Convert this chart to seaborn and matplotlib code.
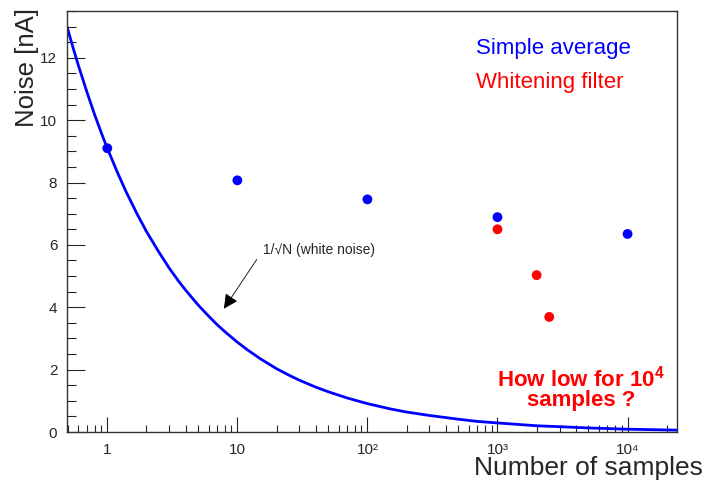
import numpy as np
import pandas as pd
import matplotlib
matplotlib.use("Agg")
import matplotlib.pyplot as plt
import matplotlib.ticker as mticker
import seaborn as sns

avg_n = [1, 10, 100, 1000, 10000]
avg_noise = [9.1, 8.07, 7.46, 6.89, 6.35]
white_n = [1000, 2000, 2500]
white_noise = [6.5, 5.03, 3.69]

# 1/sqrt(N) curve at several N
curve_n = [0.49, 0.55, 0.6, 0.7, 0.8, 0.9, 1, 1.2, 1.4, 1.7, 2, 2.5, 3, 3.5, 4, 5, 6, 7, 8,
           10, 12, 15, 20, 25, 30, 40, 50, 70, 100, 150, 200, 300, 500, 700, 1000,
           2000, 3000, 5000, 10000, 24000]
curve_noise = [13.0, 12.27, 11.75, 10.88, 10.17, 9.59, 9.1, 8.31, 7.69, 6.98, 6.43, 5.76,
               5.25, 4.86, 4.55, 4.07, 3.72, 3.44, 3.22, 2.88, 2.63, 2.35, 2.03, 1.82,
               1.66, 1.44, 1.29, 1.09, 0.91, 0.74, 0.64, 0.53, 0.41, 0.34, 0.29,
               0.20, 0.17, 0.13, 0.09, 0.06]

decade_ticks = [1, 10, 100, 1000, 10000]
decade_labels = ["1", "10", "10\u00b2", "10\u00b3", "10\u2074"]

sns.set_theme(style="ticks")
plt.rcParams["font.family"] = ["Liberation Sans", "DejaVu Sans"]
plt.rcParams["mathtext.fontset"] = "custom"
plt.rcParams["mathtext.rm"] = "Liberation Sans"
plt.rcParams["mathtext.it"] = "Liberation Sans:italic"
plt.rcParams["mathtext.bf"] = "Liberation Sans:bold"

blue = "#0000ff"
red = "#ff0000"

fig = plt.figure(figsize=(7.03, 4.83), dpi=100)
ax = fig.add_axes([67 / 703, 51 / 483, 610 / 703, 421 / 483])

curve = pd.DataFrame({"n": curve_n, "noise": curve_noise})
sns.lineplot(data=curve, x="n", y="noise", ax=ax, color=blue, lw=2, sort=False)
sns.scatterplot(x=avg_n, y=avg_noise, ax=ax, color=blue, s=50, edgecolor="none", zorder=5)
sns.scatterplot(x=white_n, y=white_noise, ax=ax, color=red, s=50, edgecolor="none", zorder=5)

ax.set_xscale("log")
ax.set_xlim(0.49, 24000)
ax.set_ylim(0, 13.5)

ax.xaxis.set_major_locator(mticker.FixedLocator(decade_ticks))
ax.xaxis.set_major_formatter(mticker.FixedFormatter(decade_labels))
ax.xaxis.set_minor_locator(mticker.LogLocator(base=10, subs=np.arange(2, 10), numticks=20))
ax.xaxis.set_minor_formatter(mticker.NullFormatter())
ax.yaxis.set_major_locator(mticker.MultipleLocator(2))
ax.yaxis.set_minor_locator(mticker.MultipleLocator(0.5))

ax.tick_params(axis="x", which="major", direction="in", length=10.5, width=0.8, labelsize=11, pad=8)
ax.tick_params(axis="x", which="minor", direction="in", length=5, width=0.8)
ax.tick_params(axis="y", which="major", direction="in", length=13, width=0.8, labelsize=11, pad=7)
ax.tick_params(axis="y", which="minor", direction="in", length=6.5, width=0.8)
for sp in ax.spines.values():
    sp.set_visible(True)
    sp.set_linewidth(1)
    sp.set_color("#333333")

ax.set_xlabel("")
ax.set_ylabel("")
fig.text(27 / 703, 1 - 8 / 483, "Noise [nA]", rotation=90, ha="center", va="top", fontsize=18.5)
fig.text(1.0, 1 - 468 / 483, "Number of samples", ha="right", va="center", fontsize=19)

# legend-like labels
ax.text(0.670, 0.912, "Simple average", transform=ax.transAxes, color=blue,
        fontsize=16, ha="left", va="center")
ax.text(0.670, 0.829, "Whitening filter", transform=ax.transAxes, color=red,
        fontsize=16, ha="left", va="center")

ax.text(0.843, 0.128, "How low for 10$^\\mathbf{4}$", transform=ax.transAxes, color=red,
        fontsize=16, fontweight="bold", ha="center", va="center")
ax.text(0.843, 0.074, "samples ?", transform=ax.transAxes, color=red,
        fontsize=16, fontweight="bold", ha="center", va="center")

# arrow to the curve
ax.annotate("", xy=(7.67, 3.88), xytext=(14.5, 5.61),
            arrowprops=dict(arrowstyle="-|>", color="black", lw=0.6, mutation_scale=22))
ax.text(15.8, 5.83, "1/\u221aN (white noise)", fontsize=10, ha="left", va="center",
        family=["Liberation Sans", "DejaVu Sans"])

fig.savefig("out.png", dpi=100, facecolor="white")
